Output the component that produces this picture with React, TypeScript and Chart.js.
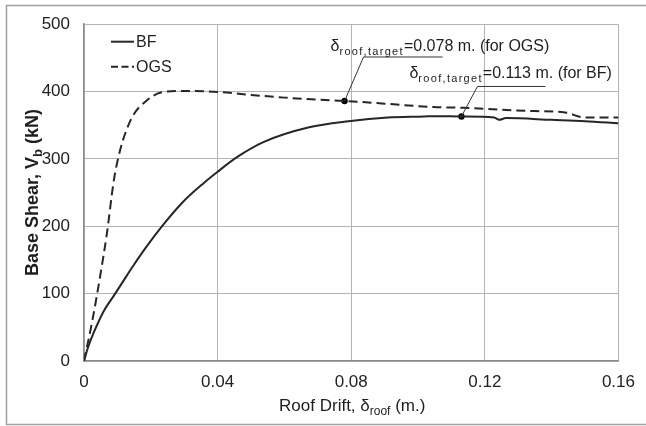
import React, { useEffect, useRef } from "react";
import { Chart, registerables } from "chart.js";

Chart.register(...registerables);

// ---- Data ----
const bfDrift = [0, 0.0012, 0.0029, 0.0059, 0.0088, 0.0118, 0.0147, 0.0186, 0.0235, 0.0294, 0.0358, 0.04, 0.0459, 0.0537, 0.0674, 0.0792, 0.091, 0.1018, 0.1047, 0.113, 0.1228, 0.1243, 0.1263, 0.14, 0.15, 0.16];
const bfShear = [0, 20, 42, 74, 96, 119, 141, 169, 201, 235, 264, 281, 303, 325, 347, 356, 361.5, 363, 363.5, 363, 361.5, 358, 360.6, 358, 356, 353];

const ogsDrift = [0, 0.0025, 0.0049, 0.0069, 0.0088, 0.0098, 0.0118, 0.0147, 0.0186, 0.023, 0.0294, 0.04, 0.05, 0.06, 0.07, 0.0782, 0.09, 0.1047, 0.1135, 0.125, 0.135, 0.144, 0.1498, 0.16];
const ogsShear = [0, 60, 128, 191, 264, 291.5, 330, 364.5, 386, 398.5, 401, 399.5, 395, 391, 388, 386, 382, 377, 376, 373, 371, 369, 361.6, 361.6];

const targetNames = ["OGS", "BF"];
const targetDrift = [0.078, 0.113];
const targetShear = [386, 363];

const xTickLabels = ["0", "0.04", "0.08", "0.12", "0.16"];
const yTickLabels = ["0", "100", "200", "300", "400", "500"];

const seriesLabels = ["BF", "OGS"];

const FONT = "'Liberation Sans', Arial, sans-serif";
const LINE = "#262626";

function drawRich(ctx: CanvasRenderingContext2D, parts: { t: string; f: string; dy: number; ls?: string }[], x: number, y: number, align: "left" | "center") {
  let total = 0;
  const widths: number[] = [];
  for (const p of parts) {
    ctx.font = p.f;
    (ctx as any).letterSpacing = p.ls || "0px";
    const w = ctx.measureText(p.t).width;
    widths.push(w);
    total += w;
  }
  let cx = align === "center" ? x - total / 2 : x;
  parts.forEach((p, i) => {
    ctx.font = p.f;
    (ctx as any).letterSpacing = p.ls || "0px";
    ctx.fillText(p.t, cx, y + p.dy);
    cx += widths[i];
  });
  (ctx as any).letterSpacing = "0px";
}

const decorPlugin = {
  id: "decor",
  beforeDraw(chart: any) {
    const ctx = chart.ctx;
    ctx.save();
    ctx.fillStyle = "#fff";
    ctx.fillRect(0, 0, chart.width, chart.height);
    ctx.restore();
  },
  afterDraw(chart: any) {
    const ctx: CanvasRenderingContext2D = chart.ctx;
    const xs = chart.scales.x;
    const ys = chart.scales.y;
    const area = chart.chartArea;
    ctx.save();
    // outer frame
    ctx.strokeStyle = "#a0a0a0";
    ctx.lineWidth = 1.5;
    ctx.beginPath();
    ctx.moveTo(chart.width + 5, 5.5);
    ctx.lineTo(6.5, 5.5);
    ctx.lineTo(6.5, 424.5);
    ctx.lineTo(chart.width + 5, 424.5);
    ctx.stroke();

    ctx.fillStyle = "#1e1e1e";
    ctx.textBaseline = "alphabetic";
    // x title
    drawRich(ctx, [
      { t: "Roof Drift, δ", f: `17px ${FONT}`, dy: 0 },
      { t: "roof", f: `12px ${FONT}`, dy: 4 },
      { t: " (m.)", f: `17px ${FONT}`, dy: 0 },
    ], (area.left + area.right) / 2 + 1, 411, "center");

    // y title
    ctx.save();
    ctx.translate(38, (area.top + area.bottom) / 2);
    ctx.rotate(-Math.PI / 2);
    drawRich(ctx, [
      { t: "Base Shear, V", f: `bold 18px ${FONT}`, dy: 0 },
      { t: "b", f: `bold 13px ${FONT}`, dy: 4 },
      { t: " (kN)", f: `bold 18px ${FONT}`, dy: 0 },
    ], 0, 0, "center");
    ctx.restore();

    // legend
    const ds = chart.data.datasets;
    seriesLabels.forEach((lab, i) => {
      const y = area.top + 17.5 + i * 25;
      ctx.strokeStyle = ds[i].borderColor;
      ctx.lineWidth = 2;
      ctx.setLineDash(ds[i].borderDash ? [7, 3.5] : []);
      ctx.beginPath();
      ctx.moveTo(111, y);
      ctx.lineTo(134, y);
      ctx.stroke();
      ctx.setLineDash([]);
      ctx.font = `16px ${FONT}`;
      ctx.textBaseline = "middle";
      ctx.fillText(lab, 136, y + 1);
    });
    ctx.textBaseline = "alphabetic";

    // target annotations
    const cfg = [
      { lx: 19, ly: -44, ul: 79, tx: -14, ty: -50 },
      { lx: 16, ly: -30, ul: 68, tx: -52, ty: -38 },
    ];
    targetDrift.forEach((d, i) => {
      const px = xs.getPixelForValue(d);
      const py = ys.getPixelForValue(targetShear[i]);
      const c = cfg[i];
      ctx.strokeStyle = "#333";
      ctx.lineWidth = 1;
      ctx.beginPath();
      ctx.moveTo(px, py);
      ctx.lineTo(px + c.lx, py + c.ly);
      ctx.lineTo(px + c.lx + c.ul, py + c.ly);
      ctx.stroke();
      ctx.fillStyle = "#1e1e1e";
      drawRich(ctx, [
        { t: "δ", f: `16px ${FONT}`, dy: 0 },
        { t: "roof,target", f: `11px ${FONT}`, dy: 4, ls: "1.3px" },
        { t: `=${d.toFixed(3)} m. (for ${targetNames[i]})`, f: `16px ${FONT}`, dy: 0 },
      ], px + c.tx, py + c.ty, "left");
    });
    ctx.restore();
  },
};

export default function App() {
  const ref = useRef<HTMLCanvasElement | null>(null);
  useEffect(() => {
    if (!ref.current) return;
    const chart = new Chart(ref.current, {
      type: "line",
      data: {
        datasets: [
          {
            label: seriesLabels[0],
            data: bfDrift.map((x, i) => ({ x, y: bfShear[i] })),
            borderColor: LINE,
            borderWidth: 2,
            pointRadius: 0,
            cubicInterpolationMode: "monotone",
            fill: false,
          },
          {
            label: seriesLabels[1],
            data: ogsDrift.map((x, i) => ({ x, y: ogsShear[i] })),
            borderColor: LINE,
            borderWidth: 2,
            borderDash: [9, 5],
            pointRadius: 0,
            cubicInterpolationMode: "monotone",
            fill: false,
          },
          {
            label: "targets",
            data: targetDrift.map((x, i) => ({ x, y: targetShear[i] })),
            showLine: false,
            pointRadius: 3.2,
            pointBackgroundColor: "#000",
            pointBorderColor: "#000",
            borderWidth: 0,
          },
        ],
      },
      options: {
        responsive: false,
        animation: false,
        layout: { padding: { top: 18, right: 19, left: 0, bottom: 0 } },
        plugins: { legend: { display: false }, tooltip: { enabled: false } },
        scales: {
          x: {
            type: "linear",
            min: 0,
            max: 0.16,
            afterFit: (s: any) => { s.height = 65; },
            ticks: {
              stepSize: 0.04,
              padding: 11,
              color: "#222",
              font: { family: FONT, size: 17 },
              maxRotation: 0,
              callback: (_v: any, i: number) => xTickLabels[i],
            },
            grid: { color: "#b4b4b4", lineWidth: 1, drawTicks: false },
            border: { color: "#8c8c8c", width: 1.5 },
          },
          y: {
            type: "linear",
            min: 0,
            max: 500,
            afterFit: (s: any) => { s.width = 84; },
            ticks: {
              stepSize: 100,
              padding: 14,
              color: "#222",
              font: { family: FONT, size: 17 },
              callback: (_v: any, i: number) => yTickLabels[i],
            },
            grid: { color: "#b4b4b4", lineWidth: 1, drawTicks: false },
            border: { color: "#8c8c8c", width: 1.5 },
          },
        },
      },
      plugins: [decorPlugin],
    } as any);
    return () => chart.destroy();
  }, []);
  return (
    <div style={{ position: "fixed", left: 0, top: 0, width: 646, height: 426, background: "#fff" }}>
      <canvas ref={ref} width={646} height={426} style={{ width: 646, height: 426, display: "block" }} />
    </div>
  );
}
